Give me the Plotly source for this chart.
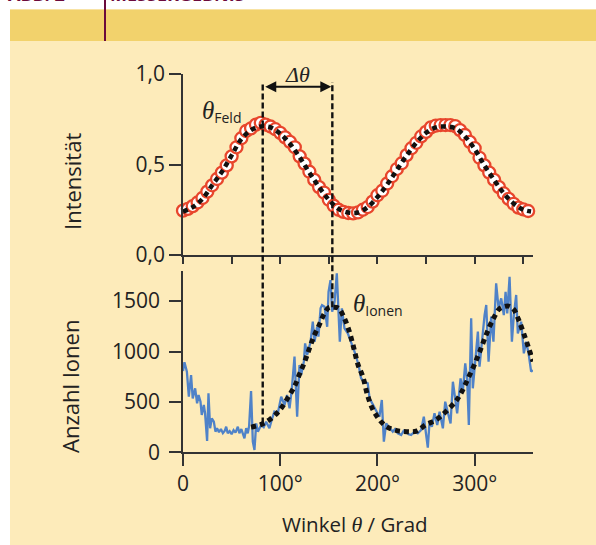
import plotly.graph_objects as go

W, H = 596, 545

# ---------------- data ----------------
feld_angle = [0, 5, 10, 15, 20, 25, 30, 35, 40, 45, 50, 55, 60, 65, 70, 75, 80, 85, 90, 95,
              100, 105, 110, 115, 120, 125, 130, 135, 140, 145, 150, 155, 160, 165, 170, 175,
              180, 185, 190, 195, 200, 205, 210, 215, 220, 225, 230, 235, 240, 245, 250, 255,
              260, 265, 270, 275, 280, 285, 290, 295, 300, 305, 310, 315, 320, 325, 330, 335,
              340, 345, 350, 355]
feld_int = [0.245, 0.255, 0.27, 0.29, 0.315, 0.35, 0.385, 0.42, 0.455, 0.495, 0.545, 0.595,
            0.645, 0.685, 0.70, 0.72, 0.73, 0.72, 0.71, 0.695, 0.675, 0.65, 0.625, 0.595, 0.545,
            0.505, 0.46, 0.415, 0.375, 0.345, 0.305, 0.272, 0.25, 0.238, 0.232, 0.23, 0.235,
            0.25, 0.265, 0.295, 0.33, 0.355, 0.395, 0.435, 0.475, 0.507, 0.552, 0.59, 0.62,
            0.655, 0.68, 0.705, 0.715, 0.718, 0.718, 0.718, 0.712, 0.69, 0.663, 0.625, 0.59,
            0.537, 0.495, 0.455, 0.415, 0.375, 0.34, 0.31, 0.283, 0.262, 0.252, 0.243]

feld_fit_angle = [0, 10, 20, 30, 40, 50, 60, 70, 80, 90, 100, 110, 120, 130, 140, 150, 160,
                  170, 180, 190, 200, 210, 220, 230, 240, 250, 260, 270, 280, 290, 300, 310,
                  320, 330, 340, 350, 358]
feld_fit = [0.24, 0.265, 0.31, 0.385, 0.46, 0.55, 0.64, 0.69, 0.71, 0.705, 0.67, 0.615, 0.54,
            0.455, 0.375, 0.305, 0.255, 0.235, 0.235, 0.265, 0.32, 0.39, 0.47, 0.55, 0.62,
            0.675, 0.705, 0.71, 0.70, 0.655, 0.585, 0.495, 0.415, 0.34, 0.285, 0.25, 0.24]

ionen_angle = [0, 1.5, 4, 6, 8.3, 10, 12.5, 14.5, 16, 18, 19.3, 21.4, 22.7, 24.8, 26.2, 27.9,
               29.6, 31.7, 33.4, 35, 37, 39, 41, 43, 44.4, 46, 48, 50, 52, 54, 56.4, 58, 60,
               61.5, 63.2, 65, 66.6, 68, 70, 71.8, 73.5, 75.3, 77, 80.4, 83, 85.5, 88.9, 91.5,
               94, 97.5, 101, 104.4, 107, 109.6, 112, 114.7, 117.4, 119.8, 121.5, 124.3, 125.6,
               127.7, 131.2, 133.5, 135.3, 138, 139.3, 141.5, 143, 145.6, 148.3, 149.7, 151.7,
               153.4, 155.9, 158.2, 159.9, 161.3, 163.4, 166.1, 169.5, 173, 176.4, 180.6, 183.2,
               186.7, 190, 191.9, 195.3, 198.7, 202, 204.5, 206.6, 209, 212.5, 215.8, 218,
               220.9, 224.4, 227, 229.5, 232, 234.6, 238.1, 241.5, 245, 247.7, 250, 251.8,
               253.6, 256, 258.7, 261.5, 263.9, 267.3, 269.7, 272.4, 275.2, 277.6, 280, 282,
               285.5, 287.8, 290.3, 292.3, 294, 296.4, 298.1, 300.4, 303.3, 305, 307.4, 310.2,
               311.9, 314.3, 317, 319.3, 322.1, 324.6, 327.3, 330, 331.8, 333.5, 335.9, 338.3,
               340.3, 342.7, 344.4, 347.8, 350.6, 353, 355.4, 358.1, 359.8]
ionen_count = [806, 893, 800, 552, 767, 535, 635, 486, 568, 502, 370, 469, 387, 112, 585, 238,
               337, 304, 205, 238, 200, 230, 190, 215, 254, 188, 210, 180, 220, 195, 254, 190,
               230, 175, 139, 240, 188, 260, 608, 105, 23, 287, 205, 270, 250, 304, 238, 330,
               403, 387, 552, 469, 568, 436, 635, 949, 353, 866, 767, 899, 1081,
               965, 1097, 1296, 1097, 1246, 1147, 1428, 1460, 1444, 1246, 1593, 1709,
               1395, 1494, 1776, 1428, 1097, 1428, 1230, 1180, 1097, 998, 866, 734,
               700, 684, 535, 469, 403, 353, 519, 105, 287, 238, 205, 230,
               188, 172, 215, 205, 180, 172, 205, 188, 221, 353, 205, 46,
               304, 254, 387, 271, 403, 238, 502, 403, 287, 700, 535, 387,
               734, 602, 883, 717, 271, 1329, 635, 916, 1197, 850, 1097, 1362,
               1461, 899, 1346, 1097, 1676, 1428, 1528, 1362, 1593, 1378, 1742, 1097,
               1362, 1561, 1180, 1296, 982, 1097, 982, 800, 816]

ionen_fit_angle = [70, 80, 90, 100, 110, 115, 120, 125, 130, 135, 140, 145, 150, 155, 160, 165,
                   170, 175, 180, 185, 190, 195, 200, 205, 210, 220, 230, 240, 250, 260, 270,
                   280, 285, 290, 295, 300, 305, 310, 315, 320, 325, 330, 335, 340, 345, 350,
                   355, 360]
ionen_fit = [250, 275, 330, 425, 575, 660, 780, 895, 1030, 1160, 1260, 1370, 1435, 1440, 1430,
             1350, 1230, 1060, 870, 750, 560, 430, 350, 290, 250, 215, 205, 210, 275, 320, 400,
             500, 570, 665, 770, 875, 995, 1120, 1240, 1340, 1420, 1445, 1450, 1420, 1320,
             1190, 1050, 900]

theta_feld = 82.0
theta_ionen = 153.6
fit_at_feld = 285
fit_at_ionen = 1440

y1_ticks = [0, 0.5, 1.0]
y1_labels = ["0,0", "0,5", "1,0"]
y2_ticks = [0, 500, 1000, 1500]
y2_labels = ["0", "500", "1000", "1500"]
x_ticks = [0, 100, 200, 300]
x_labels = ["0", "100°", "200°", "300°"]
x_minor = [0, 50, 100, 150, 200, 250, 300, 350]

# ---------------- layout geometry ----------------
def px_x(p):
    return p / W

def px_y(p):
    return (H - p) / H

XDOM = [px_x(183), px_x(533)]
Y1DOM = [px_y(255), px_y(74)]
Y2DOM = [px_y(452.3), px_y(270.9)]
Y1R = [0, 1.0]
Y2R = [0, 1800]

BG = "#FDEBBA"
HEAD = "#F2D26C"
MAROON = "#6B0B3C"
AX = "#333333"
TXT = "#222222"
FONT = "Open Sans"
SERIF = "Liberation Serif"

fig = go.Figure()

fig.add_trace(go.Scatter(
    x=feld_angle, y=feld_int, mode="markers", xaxis="x", yaxis="y",
    marker=dict(size=12, color="white", line=dict(color="#E8462C", width=2.3)),
    cliponaxis=False, showlegend=False))
fig.add_trace(go.Scatter(
    x=feld_fit_angle, y=feld_fit, mode="lines", xaxis="x", yaxis="y",
    line=dict(color="#111111", width=4.5, dash="5px,4px", shape="spline"),
    cliponaxis=False, showlegend=False))

fig.add_trace(go.Scatter(
    x=ionen_angle, y=ionen_count, mode="lines", xaxis="x2", yaxis="y2",
    line=dict(color="#4F82C8", width=2.3), showlegend=False))
fig.add_trace(go.Scatter(
    x=ionen_fit_angle, y=ionen_fit, mode="lines", xaxis="x2", yaxis="y2",
    line=dict(color="#111111", width=5, dash="5px,4px", shape="spline"),
    cliponaxis=False, showlegend=False))

axis_common = dict(showgrid=False, zeroline=False, showline=True, linecolor=AX, linewidth=1.5,
                   ticks="outside", tickcolor=AX, tickwidth=1.5, automargin=False,
                   tickfont=dict(family=FONT, size=21, color=TXT))

fig.update_layout(
    width=W, height=H,
    margin=dict(l=0, r=0, t=0, b=0),
    paper_bgcolor=BG, plot_bgcolor="rgba(0,0,0,0)",
    xaxis=dict(domain=XDOM, range=[0, 360], anchor="y", tickmode="array", tickvals=x_minor,
               showticklabels=False, ticklen=7, **{k: v for k, v in axis_common.items() if k != "tickfont"}),
    yaxis=dict(domain=Y1DOM, range=Y1R, anchor="x", tickmode="array", tickvals=y1_ticks,
               ticktext=y1_labels, ticklen=12, **axis_common),
    xaxis2=dict(domain=XDOM, range=[0, 360], anchor="y2", tickmode="array", tickvals=x_ticks,
                ticktext=x_labels, ticklen=12, **axis_common),
    yaxis2=dict(domain=Y2DOM, range=Y2R, anchor="x2", tickmode="array", tickvals=y2_ticks,
                ticktext=y2_labels, ticklen=12, ticklabelstandoff=5, **axis_common),
)

shapes = []
# white frame edges and header band
shapes.append(dict(type="rect", xref="paper", yref="paper", x0=0, x1=px_x(10), y0=0, y1=1,
                   fillcolor="white", line=dict(width=0), layer="below"))
shapes.append(dict(type="rect", xref="paper", yref="paper", x0=0, x1=1, y0=px_y(9.5), y1=1,
                   fillcolor="white", line=dict(width=0), layer="below"))
shapes.append(dict(type="rect", xref="paper", yref="paper", x0=px_x(10), x1=1, y0=px_y(41),
                   y1=px_y(9.5), fillcolor=HEAD, line=dict(width=0), layer="below"))
shapes.append(dict(type="line", xref="paper", yref="paper", x0=px_x(105), x1=px_x(105),
                   y0=px_y(41), y1=1, line=dict(color=MAROON, width=2)))

# dashed vertical lines spanning both panels
def y2_paper(v):
    return Y2DOM[0] + (v - Y2R[0]) / (Y2R[1] - Y2R[0]) * (Y2DOM[1] - Y2DOM[0])

top_px = px_y(82)
for ang, val in [(theta_feld, fit_at_feld), (theta_ionen, fit_at_ionen)]:
    shapes.append(dict(type="line", xref="x", yref="paper", x0=ang, x1=ang,
                       y0=y2_paper(val), y1=top_px,
                       line=dict(color="#111111", width=2.4, dash="6px,3px")))
fig.update_layout(shapes=shapes)

ann = []
ann.append(dict(xref="x", yref="y", x=theta_ionen, y=0.93, ax=theta_feld, ay=0.93,
                axref="x", ayref="y", showarrow=True, arrowside="end+start", arrowhead=2,
                arrowsize=1.1, arrowwidth=2, arrowcolor="#111111", standoff=1, startstandoff=1,
                text=""))
ann.append(dict(xref="x", yref="y", x=(theta_feld + theta_ionen) / 2, y=0.995,
                text="<i>Δθ</i>", showarrow=False, font=dict(family=SERIF, size=22, color=TXT),
                xanchor="center", yanchor="middle"))
ann.append(dict(xref="x", yref="y", x=17.5, y=0.79, xanchor="left", yanchor="middle",
                text='<span style="font-family:Liberation Serif;font-size:25px"><i>θ</i></span><sub>Feld</sub>',
                showarrow=False, font=dict(family=FONT, size=20, color=TXT)))
ann.append(dict(xref="x2", yref="y2", x=173, y=1460, xanchor="left", yanchor="middle",
                text='<span style="font-family:Liberation Serif;font-size:25px"><i>θ</i></span><sub>Ionen</sub>',
                showarrow=False, font=dict(family=FONT, size=20, color=TXT)))
ann.append(dict(xref="paper", yref="paper", x=px_x(72), y=px_y(182), text="Intensität",
                textangle=-90, showarrow=False, xanchor="center", yanchor="middle",
                font=dict(family=FONT, size=22, color=TXT)))
ann.append(dict(xref="paper", yref="paper", x=px_x(70), y=px_y(387), text="Anzahl Ionen",
                textangle=-90, showarrow=False, xanchor="center", yanchor="middle",
                font=dict(family=FONT, size=22, color=TXT)))
ann.append(dict(xref="paper", yref="paper", x=px_x(355), y=px_y(524),
                text='Winkel <span style="font-family:Liberation Serif;font-size:22px"><i>θ</i></span> / Grad',
                showarrow=False, xanchor="center", yanchor="middle",
                font=dict(family=FONT, size=20.5, color=TXT)))
ann.append(dict(xref="paper", yref="paper", x=px_x(6), y=px_y(8), text="<b>ABB. 2</b>",
                showarrow=False, xanchor="left", yanchor="bottom",
                font=dict(family=FONT, size=18, color=MAROON)))
ann.append(dict(xref="paper", yref="paper", x=px_x(108), y=px_y(8), text="<b>MESSERGEBNIS</b>",
                showarrow=False, xanchor="left", yanchor="bottom",
                font=dict(family=FONT, size=18, color=MAROON)))
fig.update_layout(annotations=ann)

fig.write_html("out.html", config={"displayModeBar": False},
               post_script="document.body.style.margin='0';document.body.style.padding='0';")
